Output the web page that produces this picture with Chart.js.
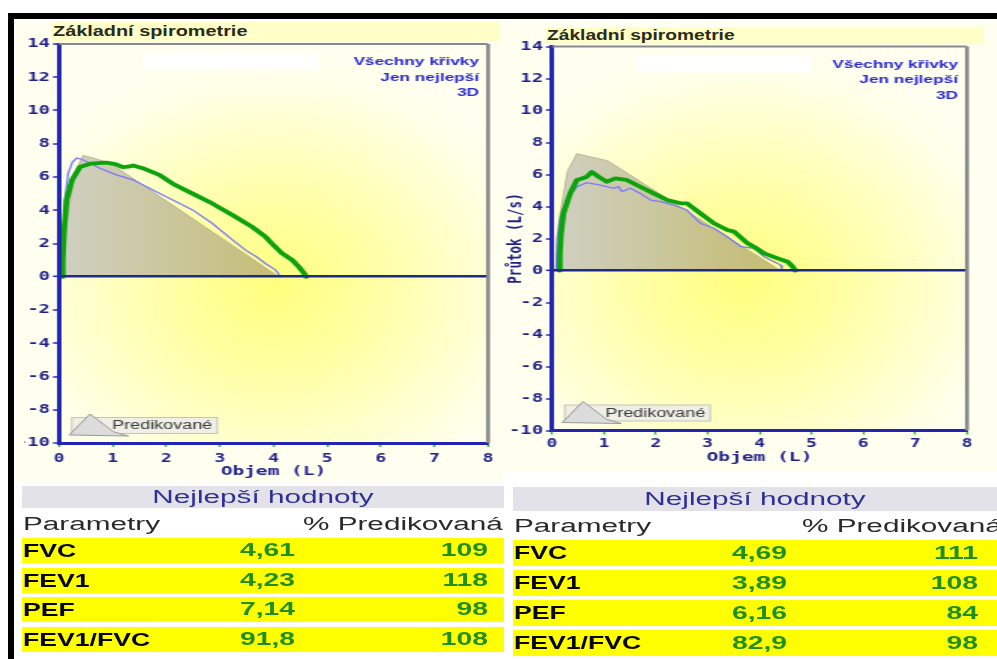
<!DOCTYPE html>
<html lang="cs">
<head>
<meta charset="utf-8">
<title>Základní spirometrie</title>
<script src="https://cdn.jsdelivr.net/npm/chart.js@4.4.1/dist/chart.umd.min.js"></script>
<style>
  html, body { margin:0; padding:0; background:#fff; }
  body { position:relative; width:997px; height:659px; overflow:hidden; font-family:"Liberation Sans", Arial, sans-serif; }
  .abs { position:absolute; }
  .wrap { position:absolute; transform-origin:0 0; transform:scaleX(1.5); }
  .wrap canvas { display:block; }
  .txt { position:absolute; white-space:nowrap; }
</style>
</head>
<body>
<!-- panel backgrounds and title bands -->
<div class="abs" style="left:16px;top:21px;width:487px;height:461px;background:#fffff0"></div>
<div class="abs" style="left:503px;top:21px;width:494px;height:451px;background:#fffff0"></div>
<div class="abs" style="left:52px;top:22px;width:448px;height:19px;background:#ffffc8"></div>
<div class="abs" style="left:545px;top:27px;width:438px;height:17px;background:#ffffc8"></div>
<div class="txt" style="left:53px;top:22px;height:19px;font:bold 14px 'Liberation Sans';line-height:19px;color:#2a2a18;transform:scaleX(1.42);transform-origin:0 50%">Základní spirometrie</div>
<div class="txt" style="left:547px;top:27px;height:17px;font:bold 14px 'Liberation Sans';line-height:17px;color:#2a2a18;transform:scaleX(1.37);transform-origin:0 50%">Základní spirometrie</div>

<div class="wrap" style="left:24px;top:22px"><canvas id="leftChart" width="318" height="460"></canvas></div>
<div class="wrap" style="left:503px;top:22px"><canvas id="rightChart" width="329" height="446"></canvas></div>

<!-- black frame -->
<div class="abs" style="left:8px;top:13px;width:989px;height:6px;background:#000"></div>
<div class="abs" style="left:8px;top:13px;width:6px;height:646px;background:#000"></div>

<div id="tables"></div>

<script>
// ---- flow-volume loops (volume in L, flow in L/s) ----
const leftPredVol  = [0.06, 0.15, 0.30, 0.45, 0.95, 4.10];
const leftPredFlow = [0.00, 3.50, 6.30, 7.30, 6.85, 0.00];
const leftBestVol  = [0.05, 0.07, 0.09, 0.14, 0.24, 0.39, 0.58, 0.88, 1.05, 1.19, 1.29, 1.38, 1.56, 1.87, 2.12, 2.49, 2.86, 3.24, 3.60, 3.85, 4.00, 4.16, 4.35, 4.47, 4.56, 4.61];
const leftBestFlow = [0.00, 1.00, 2.60, 4.60, 5.80, 6.60, 6.80, 6.87, 6.78, 6.60, 6.62, 6.69, 6.53, 6.13, 5.60, 5.00, 4.40, 3.70, 3.00, 2.40, 1.90, 1.40, 1.00, 0.60, 0.25, 0.00];
const leftAllVol   = [0.06, 0.08, 0.11, 0.17, 0.25, 0.33, 0.42, 0.60, 0.76, 1.07, 1.38, 1.75, 2.12, 2.49, 2.86, 3.24, 3.48, 3.68, 3.85, 4.04, 4.13];
const leftAllFlow  = [0.00, 2.50, 4.60, 6.20, 6.90, 7.14, 7.07, 6.80, 6.53, 6.13, 5.83, 5.22, 4.62, 4.02, 3.20, 2.20, 1.60, 1.20, 0.80, 0.40, 0.00];

const rightPredVol  = [0.10, 0.14, 0.30, 0.48, 1.08, 4.40];
const rightPredFlow = [0.00, 3.20, 6.20, 7.30, 6.85, 0.00];
const rightBestVol  = [0.14, 0.15, 0.17, 0.22, 0.35, 0.48, 0.58, 0.67, 0.77, 0.90, 1.06, 1.22, 1.44, 1.70, 1.96, 2.22, 2.48, 2.60, 2.86, 3.12, 3.38, 3.51, 3.77, 3.89, 4.09, 4.35, 4.54, 4.64, 4.69];
const rightBestFlow = [0.00, 1.00, 2.20, 3.57, 4.82, 5.66, 5.75, 5.86, 6.16, 5.85, 5.55, 5.76, 5.66, 5.24, 4.82, 4.40, 4.20, 4.20, 3.57, 2.95, 2.53, 2.43, 1.70, 1.49, 1.07, 0.76, 0.55, 0.24, 0.00];
const rightAllVol   = [0.08, 0.10, 0.15, 0.28, 0.48, 0.67, 0.93, 1.19, 1.28, 1.35, 1.51, 1.70, 1.90, 2.09, 2.35, 2.60, 2.86, 3.12, 3.38, 3.64, 3.89, 4.09, 4.28, 4.41, 4.43];
const rightAllFlow  = [0.00, 2.00, 3.16, 4.40, 5.24, 5.49, 5.34, 5.14, 5.24, 4.93, 5.14, 4.82, 4.40, 4.30, 4.09, 3.78, 2.95, 2.64, 2.11, 1.49, 1.39, 0.86, 0.55, 0.34, 0.00];

// axis ranges and labels
const volumeRange = [0, 8];
const flowRange   = [-10, 14];
const volumeTitle = 'Objem (L)';
const flowTitle   = 'Průtok (L/s)';
const cornerLabels = ['Všechny křivky', 'Jen nejlepší', '3D'];
const predictedLabel = 'Predikované';

// ---- best-values tables ----
const paramNames  = ['FVC', 'FEV1', 'PEF', 'FEV1/FVC'];
const leftBest    = [4.61, 4.23, 7.14, 91.8];
const leftPct     = [109, 118, 98, 108];
const rightBest   = [4.69, 3.89, 6.16, 82.9];
const rightPct    = [111, 108, 84, 98];
const tableTitle  = 'Nejlepší hodnoty';
const tableHead   = ['Parametry', '% Predikovaná'];

const NAVY = '#1e1e8c';
const AXIS_BLUE = '#2424b4';

const toPoints = (vol, flow) => vol.map((x, i) => ({ x, y: flow[i] }));

// yellow glow behind the plot area
const glowPlugin = {
  id: 'glow',
  beforeDraw(chart) {
    const { ctx, chartArea: a } = chart;
    const w = a.right - a.left, h = a.bottom - a.top;
    const cx = a.left + w * chart.options.plugins.glow.cx, cy = a.top + h * 0.61;
    ctx.save();
    ctx.beginPath();
    ctx.rect(a.left, a.top, w, h);
    ctx.clip();
    ctx.fillStyle = '#fffff0';
    ctx.fillRect(a.left, a.top, w, h);
    ctx.translate(cx, cy);
    ctx.scale(0.8, 1);
    const g = ctx.createRadialGradient(0, 0, 0, 0, 0, 250);
    g.addColorStop(0, '#ffff7e');
    g.addColorStop(0.35, '#ffffa6');
    g.addColorStop(0.7, '#ffffd6');
    g.addColorStop(1, 'rgba(255,255,240,0)');
    ctx.fillStyle = g;
    ctx.fillRect(-500, -500, 1000, 1000);
    ctx.restore();
  }
};

// frame, blank header box, corner captions and the "Predikované" key
const decorPlugin = {
  id: 'decor',
  afterDraw(chart) {
    const { ctx, chartArea: a } = chart;
    ctx.save();
    // grey top/right frame
    ctx.strokeStyle = '#8a8a8a';
    ctx.lineWidth = 2;
    ctx.beginPath();
    ctx.moveTo(a.left, a.top);
    ctx.lineTo(a.right, a.top);
    ctx.stroke();
    ctx.lineWidth = 2.6;
    ctx.beginPath();
    ctx.moveTo(a.right, a.top);
    ctx.lineTo(a.right, a.bottom);
    ctx.stroke();
    // blank box
    ctx.fillStyle = '#ffffff';
    ctx.fillRect(a.left + 56, a.top + 9.5, 117, 16.5);
    // corner captions
    ctx.fillStyle = '#2a2ad6';
    ctx.font = 'bold 11.5px "Liberation Sans"';
    ctx.textAlign = 'right';
    ctx.textBaseline = 'middle';
    [18, 33.5, 49].forEach((dy, i) => ctx.fillText(cornerLabels[i], a.right - 6, a.top + dy));
    // key box
    const bx = a.left + 8.5, by = a.bottom - 25.5;
    ctx.fillStyle = '#efefe6';
    ctx.strokeStyle = '#c4c4bc';
    ctx.lineWidth = 1;
    ctx.fillRect(bx, by, 97, 16);
    ctx.strokeRect(bx, by, 97, 16);
    ctx.beginPath();
    ctx.moveTo(a.left + 6.9, a.bottom - 8);
    ctx.lineTo(a.left + 20.7, a.bottom - 29);
    ctx.lineTo(a.left + 36.2, a.bottom - 11.3);
    ctx.lineTo(a.left + 46.2, a.bottom - 7);
    ctx.closePath();
    ctx.fillStyle = '#dcdcdc';
    ctx.fill();
    ctx.strokeStyle = '#9a9a9a';
    ctx.stroke();
    ctx.fillStyle = '#3a3a3a';
    ctx.font = '12px "Liberation Sans"';
    ctx.textAlign = 'left';
    ctx.fillText(predictedLabel, a.left + 35.5, by + 8.5);
    ctx.restore();
  }
};

function predictedFill(c) {
  const ch = c.chart, a = ch.chartArea;
  if (!a) return '#cfcdb8';
  const x1 = ch.scales.x.getPixelForValue(4);
  const g = ch.ctx.createLinearGradient(a.left, 0, x1, 0);
  g.addColorStop(0, '#d0d0c3');
  g.addColorStop(1, '#c6be78');
  return g;
}

function flowVolumeChart(id, d, geom) {
  return new Chart(document.getElementById(id), {
    type: 'scatter',
    data: {
      datasets: [
        { label: 'best', data: toPoints(d.bestVol, d.bestFlow), showLine: true,
          borderColor: '#0ca30c', borderWidth: 3.8, pointRadius: 0,
          borderJoinStyle: 'round', borderCapStyle: 'round' },
        { label: 'all', data: toPoints(d.allVol, d.allFlow), showLine: true,
          borderColor: '#7a7aff', borderWidth: 1.3, pointRadius: 0 },
        { label: predictedLabel, data: toPoints(d.predVol, d.predFlow), showLine: true,
          borderColor: 'rgba(180,176,150,0.9)', borderWidth: 1, pointRadius: 0,
          fill: 'origin', backgroundColor: predictedFill }
      ]
    },
    options: {
      responsive: false,
      animation: false,
      devicePixelRatio: 1,
      layout: { padding: { left: 0, top: geom.top, right: geom.right, bottom: 0 } },
      plugins: {
        legend: { display: false },
        tooltip: { enabled: false },
        glow: { cx: geom.glowX }
      },
      scales: {
        x: {
          type: 'linear', min: volumeRange[0], max: volumeRange[1],
          afterFit: s => { s.height = geom.xH; },
          ticks: { stepSize: 1, padding: geom.xPad, color: NAVY,
                   font: { family: 'DejaVu Sans Mono', weight: 'bold', size: 12 } },
          grid: { drawOnChartArea: false, drawTicks: true, tickLength: 4,
                  tickColor: '#3cb43c', tickWidth: 1.5 },
          border: { color: AXIS_BLUE, width: 3, z: 1 },
          title: { display: true, text: volumeTitle, color: NAVY,
                   padding: { top: 0, bottom: 2.2 },
                   font: { family: 'DejaVu Sans Mono', weight: 'bold', size: 13 } }
        },
        y: {
          type: 'linear', min: flowRange[0], max: flowRange[1],
          afterFit: s => { s.width = geom.yW; },
          ticks: { stepSize: 2, padding: 2, color: NAVY,
                   font: { family: 'DejaVu Sans Mono', weight: 'bold', size: 12.5 } },
          grid: {
            z: 1, drawTicks: true, tickLength: 4, tickColor: AXIS_BLUE, tickWidth: 1.5,
            color: c => (c.tick && c.tick.value === 0) ? '#1c2a8c' : 'rgba(0,0,0,0)',
            lineWidth: c => (c.tick && c.tick.value === 0) ? 2.6 : 0
          },
          border: { color: AXIS_BLUE, width: 3, z: 1 },
          title: { display: geom.yTitle, text: flowTitle, color: NAVY,
                   padding: { top: 0.8, bottom: 0 },
                   font: { family: 'DejaVu Sans Mono', weight: 'bold', size: 12.5 } }
        }
      }
    },
    plugins: [glowPlugin, decorPlugin]
  });
}

flowVolumeChart('leftChart',
  { predVol: leftPredVol, predFlow: leftPredFlow, bestVol: leftBestVol, bestFlow: leftBestFlow,
    allVol: leftAllVol, allFlow: leftAllFlow },
  { top: 22, right: 7.33, yW: 23.33, xH: 39, xPad: 5, yTitle: false, glowX: 0.5 });

flowVolumeChart('rightChart',
  { predVol: rightPredVol, predFlow: rightPredFlow, bestVol: rightBestVol, bestFlow: rightBestFlow,
    allVol: rightAllVol, allFlow: rightAllFlow },
  { top: 24.5, right: 19.67, yW: 32.67, xH: 37.5, xPad: 2.6, yTitle: true, glowX: 0.46 });

// ---- tables ----
const fmt = (v, i) => (i < 3 ? v.toFixed(2) : v.toFixed(1)).replace('.', ',');

function addText(parent, text, css) {
  const el = document.createElement('div');
  el.className = 'txt';
  el.textContent = text;
  Object.assign(el.style, css);
  parent.appendChild(el);
  return el;
}

function buildTable(box, best, pct) {
  const host = document.createElement('div');
  Object.assign(host.style, { position: 'absolute', left: box.x0 + 'px', top: '0px',
    width: box.w + 'px', height: '659px', overflow: 'hidden' });
  document.getElementById('tables').appendChild(host);

  const band = document.createElement('div');
  Object.assign(band.style, { position: 'absolute', left: '0px', top: box.headTop + 'px',
    width: box.bandW + 'px', height: box.headH + 'px', background: '#e2e2e8' });
  host.appendChild(band);
  addText(host, tableTitle, { left: '0px', width: box.bandW + 'px', textAlign: 'center',
    top: box.headTop + 'px', height: box.headH + 'px', font: '18px "Liberation Sans"',
    lineHeight: box.headH + 'px', color: '#2f2f96', transform: 'scaleX(1.65)',
    transformOrigin: '50% 50%' });

  const headCss = { top: (box.parY - 12) + 'px', height: '24px', font: '18px "Liberation Sans"',
    lineHeight: '24px', color: '#2a2a2a', transform: 'scaleX(1.65)', transformOrigin: '0 50%' };
  addText(host, tableHead[0], Object.assign({ left: '1px' }, headCss));
  addText(host, tableHead[1], Object.assign({ left: (box.pctX - box.x0) + 'px' }, headCss));

  paramNames.forEach((name, i) => {
    const top = box.rowTops[i];
    const row = document.createElement('div');
    Object.assign(row.style, { position: 'absolute', left: '0px', top: top + 'px',
      width: box.bandW + 'px', height: box.rowH + 'px', background: '#ffff00' });
    host.appendChild(row);
    addText(host, name, { left: '1px', top: top + 'px', height: box.rowH + 'px',
      font: 'bold 19px "Liberation Sans"', lineHeight: box.rowH + 'px', color: '#050505',
      transform: 'scaleX(1.4)', transformOrigin: '0 50%' });
    const valCss = { top: top + 'px', height: box.rowH + 'px', width: '120px', textAlign: 'right',
      font: 'bold 18px "Liberation Sans"', lineHeight: box.rowH + 'px', color: '#1f8f1f',
      transform: 'scaleX(1.57)', transformOrigin: '100% 50%' };
    addText(host, fmt(best[i], i), Object.assign({ left: (box.col1 - box.x0 - 120) + 'px' }, valCss));
    addText(host, String(pct[i]), Object.assign({ left: (box.col2 - box.x0 - 120) + 'px' }, valCss));
  });
}

buildTable({ x0: 22, w: 485, bandW: 482, headTop: 486, headH: 22, parY: 524, pctX: 303,
  rowTops: [538, 568, 597, 627], rowH: 25, col1: 295, col2: 488 }, leftBest, leftPct);
buildTable({ x0: 513, w: 484, bandW: 484, headTop: 487, headH: 24, parY: 526, pctX: 802,
  rowTops: [540, 570, 600, 630], rowH: 26, col1: 787, col2: 978 }, rightBest, rightPct);
</script>
</body>
</html>
